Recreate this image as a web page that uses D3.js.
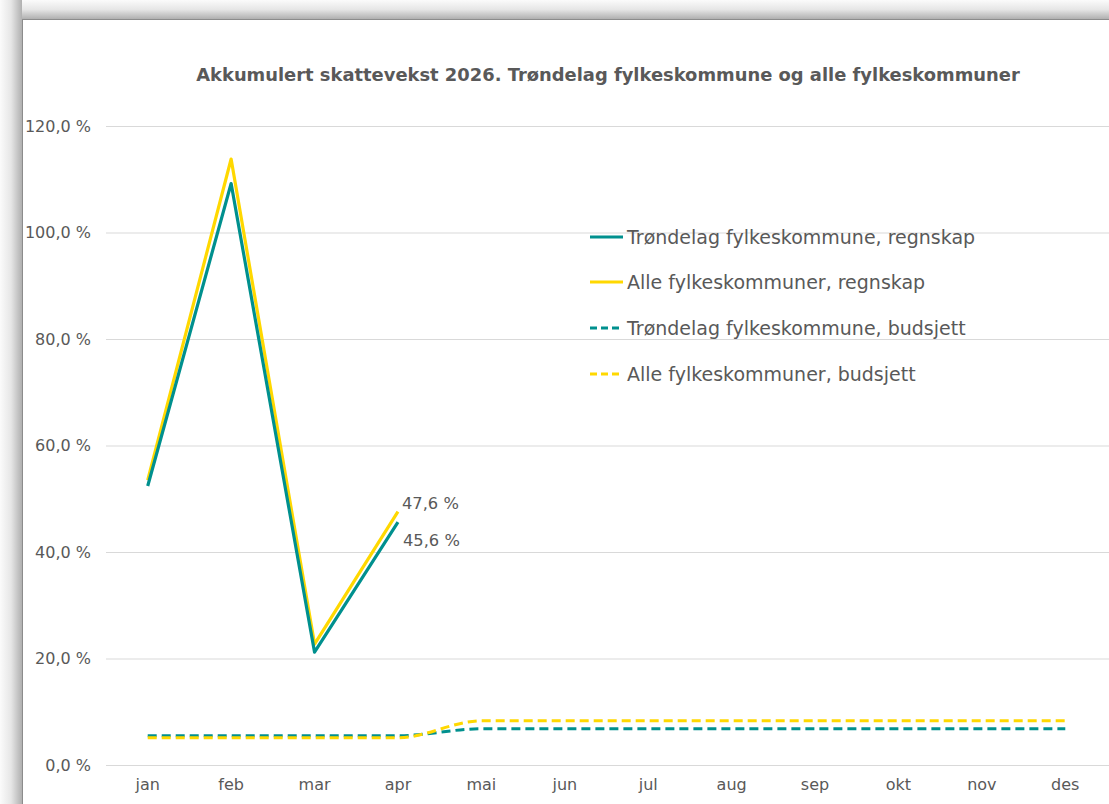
<!DOCTYPE html>
<html><head><meta charset="utf-8">
<script src="https://cdn.jsdelivr.net/npm/d3@7"></script>
<style>body{margin:0;background:#fff;}svg{display:block;}</style>
</head><body>
<svg id="c" width="1109" height="804"></svg>
<script>
const months = ["jan","feb","mar","apr","mai","jun","jul","aug","sep","okt","nov","des"];
const trondRegnskap = [52.4, 109.2, 21.2, 45.6];
const alleRegnskap = [53.5, 113.8, 22.7, 47.6];
const trondBudsjett = [5.5, 5.5, 5.5, 5.5, 6.8, 6.8, 6.8, 6.8, 6.8, 6.8, 6.8, 6.8];
const alleBudsjett = [5.1, 5.1, 5.1, 5.1, 8.3, 8.3, 8.3, 8.3, 8.3, 8.3, 8.3, 8.3];
const yTicks = [0, 20, 40, 60, 80, 100, 120];
const seriesNames = ["Trøndelag fylkeskommune, regnskap","Alle fylkeskommuner, regnskap","Trøndelag fylkeskommune, budsjett","Alle fylkeskommuner, budsjett"];
const labelTexts = ["47,6 %","45,6 %"];

const TEAL = "#00908E", YELLOW = "#FFD800", GREY = "#595959";
const svg = d3.select("#c");
const defs = svg.append("defs");
const gl = defs.append("linearGradient").attr("id","gl").attr("x1","0").attr("x2","1").attr("y1","0").attr("y2","0");
gl.append("stop").attr("offset","0").attr("stop-color","#fbfbfb");
gl.append("stop").attr("offset","0.5").attr("stop-color","#e6e6e6");
gl.append("stop").attr("offset","1").attr("stop-color","#b0b0b0");
const gt = defs.append("linearGradient").attr("id","gt").attr("x1","0").attr("x2","0").attr("y1","0").attr("y2","1");
gt.append("stop").attr("offset","0").attr("stop-color","#fbfbfb");
gt.append("stop").attr("offset","0.5").attr("stop-color","#e6e6e6");
gt.append("stop").attr("offset","1").attr("stop-color","#b0b0b0");

svg.append("rect").attr("x",0).attr("y",0).attr("width",1109).attr("height",804).attr("fill","#fff");
svg.append("rect").attr("x",0).attr("y",0).attr("width",1109).attr("height",19).attr("fill","url(#gt)");
svg.append("rect").attr("x",0).attr("y",0).attr("width",22).attr("height",804).attr("fill","url(#gl)");
svg.append("line").attr("x1",22).attr("x2",1109).attr("y1",19.5).attr("y2",19.5).attr("stroke","#8c8c8c");
svg.append("line").attr("x1",22.5).attr("x2",22.5).attr("y1",19).attr("y2",804).attr("stroke","#8c8c8c");

const x = d3.scaleBand().domain(months).range([106, 1107]);
const y = d3.scaleLinear().domain([0, 120]).range([765, 126]);
const cx = m => x(m) + x.bandwidth()/2;
const font = "'DejaVu Sans', Verdana, sans-serif";

// gridlines
const yAxis = d3.axisLeft(y).tickValues(yTicks).tickSize(-(1109-106)).tickPadding(15)
  .tickFormat(d => d3.format(".1f")(d).replace(".", ",") + " %");
const ga = svg.append("g").attr("transform","translate(106,0)").call(yAxis);
ga.select(".domain").remove();
ga.selectAll("line").attr("stroke","#d9d9d9").attr("stroke-width",1);
ga.selectAll("text").attr("fill",GREY).style("font-family",font).style("font-size","16px");

const xAxis = d3.axisBottom(x).tickSize(0).tickPadding(14);
const gx = svg.append("g").attr("transform","translate(0,765)").call(xAxis);
gx.select(".domain").remove();
gx.selectAll("text").attr("fill",GREY).style("font-family",font).style("font-size","16px");

// title
svg.append("text").attr("x",608).attr("y",81).attr("text-anchor","middle")
  .attr("fill",GREY).style("font-family",font).style("font-weight","bold").style("font-size","17.9px")
  .text("Akkumulert skattevekst 2026. Trøndelag fylkeskommune og alle fylkeskommuner");

const straight = d3.line().x((d,i)=>cx(months[i])).y(d=>y(d));
const smooth = d3.line().x((d,i)=>cx(months[i])).y(d=>y(d)).curve(d3.curveMonotoneX);

svg.append("path").datum(trondBudsjett).attr("d",smooth).attr("fill","none").attr("stroke",TEAL).attr("stroke-width",3).attr("stroke-dasharray","9,5");
svg.append("path").datum(alleBudsjett).attr("d",smooth).attr("fill","none").attr("stroke",YELLOW).attr("stroke-width",3).attr("stroke-dasharray","9,5");
svg.append("path").datum(alleRegnskap).attr("d",straight).attr("fill","none").attr("stroke",YELLOW).attr("stroke-width",3.2).attr("stroke-linejoin","round");
svg.append("path").datum(trondRegnskap).attr("d",straight).attr("fill","none").attr("stroke",TEAL).attr("stroke-width",3.2).attr("stroke-linejoin","round");

// data labels
svg.append("text").attr("x",cx("apr")+4).attr("y",y(alleRegnskap[3])-3).attr("fill",GREY)
  .style("font-family",font).style("font-size","16.3px").text(labelTexts[0]);
svg.append("text").attr("x",cx("apr")+5).attr("y",y(trondRegnskap[3])+24).attr("fill",GREY)
  .style("font-family",font).style("font-size","16.3px").text(labelTexts[1]);

// legend
const legY = [237, 282, 328, 374];
const legCol = [TEAL, YELLOW, TEAL, YELLOW];
const legDash = [null, null, "7,4", "7,4"];
seriesNames.forEach((n,i)=>{
  const g = svg.append("g").attr("transform",`translate(590,${legY[i]})`);
  g.append("line").attr("x1",0).attr("x2",33).attr("y1",0).attr("y2",0).attr("stroke",legCol[i]).attr("stroke-width",3)
    .attr("stroke-dasharray",legDash[i]);
  g.append("text").attr("x",37).attr("y",0).attr("dy","0.35em").attr("fill",GREY)
    .style("font-family",font).style("font-size","19px").text(n);
});
</script>
</body></html>
